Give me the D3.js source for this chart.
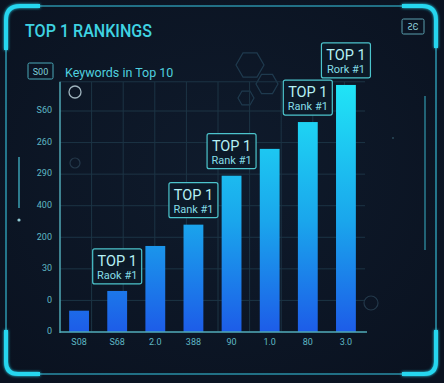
<!DOCTYPE html>
<html><head><meta charset="utf-8">
<script src="https://cdn.jsdelivr.net/npm/d3@7"></script>
<style>
html,body{margin:0;padding:0;background:#0b1422;}
svg{display:block;font-family:Roboto,"Noto Sans",sans-serif;}
</style></head>
<body>
<svg id="c" width="444" height="383"></svg>
<script>
const categories = ["c1","c2","c3","c4","c5","c6","c7","c8"];
const xLabels = ["S08","S68","2.0","388","90","1.0","80","3.0"];
const values = [27, 52, 109, 136, 198, 232, 266, 313];
const yTickValues = [0, 40, 80, 120, 160, 200, 240, 280];
const yTickLabels = ["0","0","30","200","400","290","260","S60"];
const annotated = [1, 3, 4, 6, 7];
const annotLine2 = {1:"Raok #1", 3:"Rank #1", 4:"Rank #1", 6:"Rank #1", 7:"Rork #1"};

const W = 444, H = 383;
const svg = d3.select("#c");
const defs = svg.append("defs");

const bg = defs.append("radialGradient").attr("id","bg").attr("cx","50%").attr("cy","45%").attr("r","70%");
bg.append("stop").attr("offset","0%").attr("stop-color","#0f1b2c");
bg.append("stop").attr("offset","100%").attr("stop-color","#0a1220");
svg.append("rect").attr("width",W).attr("height",H).attr("fill","url(#bg)");

const m = {left:60, right:365, top:82, bottom:332};
const x = d3.scaleBand().domain(categories).range([m.left, m.right]).paddingInner(0.48).paddingOuter(0.24);
const y = d3.scaleLinear().domain([0, 280]).range([m.bottom, 111]);

const grad = defs.append("linearGradient").attr("id","barg").attr("gradientUnits","userSpaceOnUse")
  .attr("x1",0).attr("x2",0).attr("y1",85).attr("y2",m.bottom);
grad.append("stop").attr("offset","0%").attr("stop-color","#20e4f6");
grad.append("stop").attr("offset","55%").attr("stop-color","#1aa6ec");
grad.append("stop").attr("offset","100%").attr("stop-color","#1d5ce8");

const glow = defs.append("filter").attr("id","glow").attr("x","-20%").attr("y","-20%").attr("width","140%").attr("height","140%");
glow.append("feGaussianBlur").attr("stdDeviation",1.5).attr("result","b");
const fm = glow.append("feMerge"); fm.append("feMergeNode").attr("in","b"); fm.append("feMergeNode").attr("in","SourceGraphic");

// frame
const frame = svg.append("g");
frame.append("rect").attr("x",6).attr("y",6).attr("width",430).attr("height",368).attr("rx",14)
  .attr("fill","none").attr("stroke","#2a8ea6").attr("stroke-width",1.6);
const cs = "#25d6ef";
const cornerW = 4;
frame.append("path").attr("d","M6,50 V20 Q6,6 20,6 H40").attr("fill","none").attr("stroke",cs).attr("stroke-width",cornerW).attr("filter","url(#glow)");
frame.append("path").attr("d","M402,6 H422 Q436,6 436,20 V48").attr("fill","none").attr("stroke",cs).attr("stroke-width",cornerW).attr("filter","url(#glow)");
frame.append("path").attr("d","M6,330 V362 Q6,374 18,374 H40").attr("fill","none").attr("stroke",cs).attr("stroke-width",cornerW).attr("filter","url(#glow)");
frame.append("path").attr("d","M402,374 H424 Q436,374 436,362 V330").attr("fill","none").attr("stroke",cs).attr("stroke-width",cornerW).attr("filter","url(#glow)");

// side decorations
svg.append("line").attr("x1",19).attr("x2",19).attr("y1",157).attr("y2",208).attr("stroke","#3a9fb2").attr("stroke-width",1.5);
svg.append("circle").attr("cx",19).attr("cy",220).attr("r",1.6).attr("fill","#8fc9d4");
svg.append("line").attr("x1",425).attr("x2",425).attr("y1",96).attr("y2",250).attr("stroke","#2f8ea3").attr("stroke-width",1.3);
svg.append("circle").attr("cx",393).attr("cy",138).attr("r",1).attr("fill","#2a4a5a");

// title
svg.append("text").attr("x",25).attr("y",37).attr("fill","#3fd3e2").attr("font-size",17.5).attr("font-weight",500)
  .attr("textLength",127).attr("lengthAdjust","spacingAndGlyphs").text("TOP 1 RANKINGS");

// top-right tag
svg.append("rect").attr("x",402).attr("y",19).attr("width",22).attr("height",15).attr("rx",1.5)
  .attr("fill","none").attr("stroke","#5a9fae").attr("stroke-width",1);
svg.append("text").attr("x",413).attr("y",30).attr("text-anchor","middle").attr("fill","#8fd0da").attr("font-size",9).text("ƧЄ");

// legend
svg.append("rect").attr("x",28).attr("y",63).attr("width",25).attr("height",16).attr("rx",1.5)
  .attr("fill","none").attr("stroke","#4aa9b8").attr("stroke-width",1);
svg.append("text").attr("x",40.5).attr("y",75).attr("text-anchor","middle").attr("fill","#7fcfd9").attr("font-size",9).text("S00");
svg.append("text").attr("x",65).attr("y",77).attr("fill","#4fd0df").attr("font-size",12.5).text("Keywords in Top 10");

// hexagon decorations
const hex = (cx, cy, r) => d3.range(6).map(i => { const a = Math.PI/3*i; return [cx + r*Math.cos(a), cy + r*Math.sin(a)]; });
const hg = svg.append("g").attr("fill","none").attr("stroke","#1f3a4e").attr("stroke-width",1.2);
hg.append("polygon").attr("points", hex(250, 65, 14).join(" "));
hg.append("polygon").attr("points", hex(267, 84, 11).join(" "));
hg.append("polygon").attr("points", hex(246, 98, 8).join(" "));

// grid
const grid = svg.append("g").attr("stroke","#1c3445").attr("stroke-width",1);
grid.selectAll(".gh").data(yTickValues.concat([317])).join("line")
  .attr("x1",m.left).attr("x2",m.right).attr("y1",d=>y(d)).attr("y2",d=>y(d));
const gxStep = 31.6;
grid.selectAll(".gv").data(d3.range(m.left + gxStep, m.right, gxStep)).join("line")
  .attr("x1",d=>d).attr("x2",d=>d).attr("y1",y(317)).attr("y2",m.bottom);

// circles decor
svg.append("circle").attr("cx",75).attr("cy",92).attr("r",6).attr("fill","none").attr("stroke","#9fb3bd").attr("stroke-width",1.3);
svg.append("circle").attr("cx",75).attr("cy",163).attr("r",5).attr("fill","none").attr("stroke","#24384a").attr("stroke-width",1.2);
svg.append("circle").attr("cx",371).attr("cy",303).attr("r",7).attr("fill","none").attr("stroke","#23384a").attr("stroke-width",1.2);

// bars
svg.append("g").selectAll("rect").data(values).join("rect")
  .attr("x",(d,i)=>x(categories[i])).attr("width",x.bandwidth())
  .attr("y",d=>y(d)).attr("height",d=>y(0)-y(d)).attr("fill","url(#barg)");

// axes
const axisColor = "#4fa7b4";
const yAxis = d3.axisLeft(y).tickValues(yTickValues).tickSize(0).tickPadding(8).tickFormat((d,i)=>yTickLabels[i]);
const gy = svg.append("g").attr("transform",`translate(${m.left},0)`).call(yAxis);
gy.select(".domain").remove();
gy.selectAll("text").attr("fill","#5fb8c4").attr("font-size",9).attr("font-family","Roboto,sans-serif").attr("dy","0.2em");
svg.append("line").attr("x1",m.left).attr("x2",m.left).attr("y1",y(317)).attr("y2",m.bottom+1).attr("stroke",axisColor).attr("stroke-width",1.5);

const xAxis = d3.axisBottom(x).tickSize(0).tickPadding(7).tickFormat((d,i)=>xLabels[i]);
const gx = svg.append("g").attr("transform",`translate(0,${m.bottom})`).call(xAxis);
gx.select(".domain").remove();
gx.selectAll("text").attr("fill","#5fb8c4").attr("font-size",9).attr("font-family","Roboto,sans-serif");
svg.append("line").attr("x1",m.left).attr("x2",m.right+2).attr("y1",m.bottom).attr("y2",m.bottom).attr("stroke",axisColor).attr("stroke-width",1.5);

// annotations
const ag = svg.append("g").selectAll("g").data(annotated).join("g")
  .attr("transform", i => `translate(${x(categories[i]) + x.bandwidth()/2},${y(values[i]) - 7})`);
ag.append("rect").attr("x",-24.5).attr("y",-35).attr("width",49).attr("height",35).attr("rx",2)
  .attr("fill","#0c1a28").attr("fill-opacity",0.9).attr("stroke","#4cc4cc").attr("stroke-width",1.2);
ag.append("text").attr("y",-18).attr("text-anchor","middle").attr("fill","#b6f1f5").attr("font-size",14.5).attr("font-weight",400).text("TOP 1");
ag.append("text").attr("y",-5).attr("text-anchor","middle").attr("fill","#86dde6").attr("font-size",11).text(i=>annotLine2[i]);
</script>
</body></html>
